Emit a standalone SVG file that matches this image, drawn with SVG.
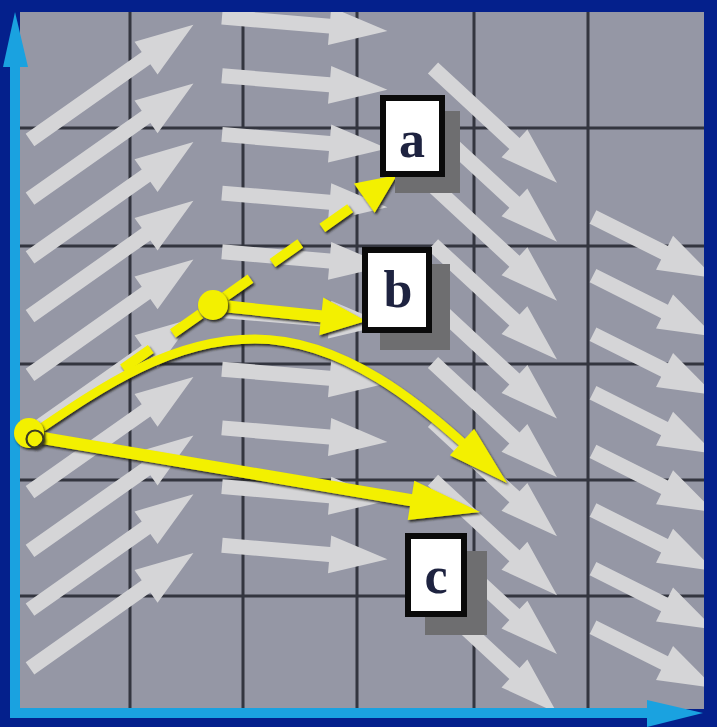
<svg xmlns="http://www.w3.org/2000/svg" xmlns:xlink="http://www.w3.org/1999/xlink" width="717" height="727" viewBox="0 0 717 727">
  <style>
    .grid line { stroke: #33353f; stroke-width: 3; }
    .fld use { fill: #d5d5d7; }
    .ys { stroke: #f3f000; fill: none; stroke-linecap: butt; }
    .yf { fill: #f3f000; }
    .box { fill: #ffffff; stroke: #0a0a0a; stroke-width: 6; }
    .shd { fill: #6e6e70; }
    .lbl { font-family: "Liberation Serif", "Times New Roman", serif; font-weight: bold; font-size: 52px; fill: #1e2340; text-anchor: middle; }
    .navy { fill: #04208c; }
    .cyan { fill: #1aa2e0; }
  </style>
  <defs>
    <filter id="sh" x="-20%" y="-20%" width="140%" height="140%">
      <feDropShadow dx="1.5" dy="2" stdDeviation="1" flood-color="#1c1c12" flood-opacity="0.9"/>
    </filter>
    <path id="a1" d="M0,-7.5H142V-20L200,0L142,20V7.5H0Z"/>
    <path id="a2" d="M0,-7.5H108V-19L166,0L108,19V7.5H0Z"/>
    <path id="a3" d="M0,-7.5H111V-19L169,0L111,19V7.5H0Z"/>
    <path id="a4" d="M0,-7.5H80V-19L136,0L80,19V7.5H0Z"/>
  </defs>

  <!-- background / frame -->
  <rect x="0" y="0" width="717" height="727" class="navy"/>
  <rect x="20" y="12" width="684" height="697" fill="#9597a5"/>

  <g class="grid">
    <line x1="130" y1="12" x2="130" y2="709"/>
    <line x1="243" y1="12" x2="243" y2="709"/>
    <line x1="357" y1="12" x2="357" y2="709"/>
    <line x1="474" y1="12" x2="474" y2="709"/>
    <line x1="588" y1="12" x2="588" y2="709"/>
    <line x1="20" y1="128" x2="704" y2="128"/>
    <line x1="20" y1="246" x2="704" y2="246"/>
    <line x1="20" y1="364" x2="704" y2="364"/>
    <line x1="20" y1="480" x2="704" y2="480"/>
    <line x1="20" y1="596" x2="704" y2="596"/>
  </g>

  <!-- vector field -->
  <g class="fld">
    <use xlink:href="#a1" href="#a1" transform="translate(30,140) rotate(-35.2)"/>
    <use xlink:href="#a1" href="#a1" transform="translate(30,198.7) rotate(-35.2)"/>
    <use xlink:href="#a1" href="#a1" transform="translate(30,257.4) rotate(-35.2)"/>
    <use xlink:href="#a1" href="#a1" transform="translate(30,316.1) rotate(-35.2)"/>
    <use xlink:href="#a1" href="#a1" transform="translate(30,374.8) rotate(-35.2)"/>
    <use xlink:href="#a1" href="#a1" transform="translate(30,433.5) rotate(-35.2)"/>
    <use xlink:href="#a1" href="#a1" transform="translate(30,492.2) rotate(-35.2)"/>
    <use xlink:href="#a1" href="#a1" transform="translate(30,550.9) rotate(-35.2)"/>
    <use xlink:href="#a1" href="#a1" transform="translate(30,609.6) rotate(-35.2)"/>
    <use xlink:href="#a1" href="#a1" transform="translate(30,668.3) rotate(-35.2)"/>

    <use xlink:href="#a2" href="#a2" transform="translate(222,17) rotate(4.85)"/>
    <use xlink:href="#a2" href="#a2" transform="translate(222,75.7) rotate(4.85)"/>
    <use xlink:href="#a2" href="#a2" transform="translate(222,134.4) rotate(4.85)"/>
    <use xlink:href="#a2" href="#a2" transform="translate(222,193.1) rotate(4.85)"/>
    <use xlink:href="#a2" href="#a2" transform="translate(222,251.8) rotate(4.85)"/>
    <use xlink:href="#a2" href="#a2" transform="translate(222,310.5) rotate(4.85)"/>
    <use xlink:href="#a2" href="#a2" transform="translate(222,369.2) rotate(4.85)"/>
    <use xlink:href="#a2" href="#a2" transform="translate(222,427.9) rotate(4.85)"/>
    <use xlink:href="#a2" href="#a2" transform="translate(222,486.6) rotate(4.85)"/>
    <use xlink:href="#a2" href="#a2" transform="translate(222,545.3) rotate(4.85)"/>

    <use xlink:href="#a3" href="#a3" transform="translate(433,68) rotate(42.8)"/>
    <use xlink:href="#a3" href="#a3" transform="translate(433,126.9) rotate(42.8)"/>
    <use xlink:href="#a3" href="#a3" transform="translate(433,185.8) rotate(42.8)"/>
    <use xlink:href="#a3" href="#a3" transform="translate(433,244.7) rotate(42.8)"/>
    <use xlink:href="#a3" href="#a3" transform="translate(433,303.6) rotate(42.8)"/>
    <use xlink:href="#a3" href="#a3" transform="translate(433,362.5) rotate(42.8)"/>
    <use xlink:href="#a3" href="#a3" transform="translate(433,421.4) rotate(42.8)"/>
    <use xlink:href="#a3" href="#a3" transform="translate(433,480.3) rotate(42.8)"/>
    <use xlink:href="#a3" href="#a3" transform="translate(433,539.2) rotate(42.8)"/>
    <use xlink:href="#a3" href="#a3" transform="translate(433,598.1) rotate(42.8)"/>

    <use xlink:href="#a4" href="#a4" transform="translate(593,217) rotate(26.6)"/>
    <use xlink:href="#a4" href="#a4" transform="translate(593,275.6) rotate(26.6)"/>
    <use xlink:href="#a4" href="#a4" transform="translate(593,334.2) rotate(26.6)"/>
    <use xlink:href="#a4" href="#a4" transform="translate(593,392.8) rotate(26.6)"/>
    <use xlink:href="#a4" href="#a4" transform="translate(593,451.4) rotate(26.6)"/>
    <use xlink:href="#a4" href="#a4" transform="translate(593,510) rotate(26.6)"/>
    <use xlink:href="#a4" href="#a4" transform="translate(593,568.6) rotate(26.6)"/>
    <use xlink:href="#a4" href="#a4" transform="translate(593,627.2) rotate(26.6)"/>
  </g>

  <!-- frame overlays / axes -->
  <rect x="704" y="0" width="13" height="727" class="navy"/>
  <rect x="0" y="0" width="717" height="12" class="navy"/>
  <rect x="0" y="718" width="717" height="9" class="navy"/>
  <g id="axes">
    <rect x="10" y="40" width="10" height="678" class="cyan"/>
    <polygon class="cyan" points="15,12 28,67 3,67"/>
    <rect x="10" y="708" width="650" height="10" class="cyan"/>
    <polygon class="cyan" points="703,713 647,700 647,727"/>
  </g>

  <!-- connectors (yellow) -->
  <g id="connectors" filter="url(#sh)">
    <g id="conn-a">
      <line class="ys" x1="123" y1="368.6" x2="366" y2="197" stroke-width="10" stroke-dasharray="34 27"/>
      <polygon class="yf" points="397,175 374.7,212.8 353.9,183.4"/>
    </g>
    <g id="conn-b">
      <line class="ys" x1="213" y1="305" x2="323" y2="316.5" stroke-width="12"/>
      <polygon class="yf" points="366,321 323.2,297.4 319.2,335.2"/>
    </g>
    <g id="conn-c">
      <line class="ys" x1="31" y1="436" x2="413" y2="500.5" stroke-width="12"/>
      <polygon class="yf" points="480,512 414.3,480.7 407.7,520.1"/>
    </g>
    <g id="conn-curve">
      <path class="ys" d="M31,435 C100,388 170,339 255,339 C345,339 425,409 464,444" stroke-width="9"/>
      <polygon class="yf" points="507,483 449.9,455.3 474.1,428.7"/>
    </g>
  </g>

  <!-- points -->
  <g id="point-start" filter="url(#sh)">
    <circle class="yf" cx="29" cy="433" r="15"/>
    <circle cx="35" cy="439" r="8.5" fill="none" stroke="#3a3a22" stroke-width="2.2"/>
  </g>
  <g id="point-b" filter="url(#sh)">
    <circle class="yf" cx="213" cy="305" r="15"/>
  </g>

  <!-- labels -->
  <g id="label-a">
    <rect class="shd" x="395" y="111" width="65" height="82"/>
    <rect class="box" x="383" y="98" width="59" height="76"/>
    <text class="lbl" x="412" y="157">a</text>
  </g>
  <g id="label-b">
    <rect class="shd" x="380" y="264" width="70" height="86"/>
    <rect class="box" x="365" y="250" width="64" height="80"/>
    <text class="lbl" x="398" y="307">b</text>
  </g>
  <g id="label-c">
    <rect class="shd" x="425" y="551" width="62" height="84"/>
    <rect class="box" x="408" y="536" width="56" height="78"/>
    <text class="lbl" x="436" y="593">c</text>
  </g>
</svg>
